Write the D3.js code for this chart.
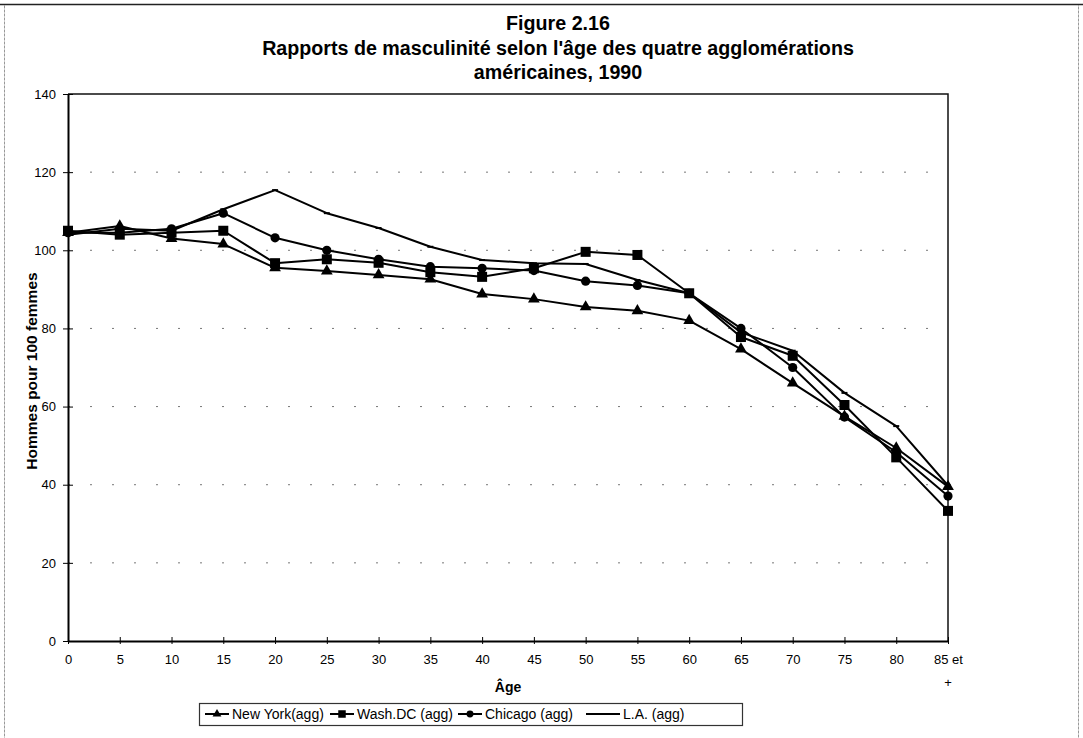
<!DOCTYPE html>
<html>
<head>
<meta charset="utf-8">
<script src="https://cdn.jsdelivr.net/npm/d3@7"></script>
<style>
  body { margin: 0; background: #fff; }
  svg text { font-family: "Liberation Sans", Arial, sans-serif; fill: #000; }
</style>
</head>
<body>
<div id="chart"></div>
<script>
const ages = ["0", "5", "10", "15", "20", "25", "30", "35", "40", "45", "50", "55", "60", "65", "70", "75", "80", "85 et +"];
const newYork = [104.5, 106.2, 103, 101.6, 95.5, 94.7, 93.7, 92.6, 88.8, 87.5, 85.5, 84.5, 82, 74.7, 66, 57.5, 49.4, 39.5];
const washDC = [105, 104, 104.5, 105, 96.7, 97.7, 96.8, 94.4, 93.2, 95.4, 99.6, 98.8, 89, 77.8, 73, 60.4, 47, 33.3];
const chicago = [104.5, 104.5, 105.5, 109.5, 103.2, 100, 97.7, 95.8, 95.4, 94.8, 92.1, 91, 89, 80, 70, 57.3, 48.3, 37.1];
const losAngeles = [104, 105.5, 105, 110.5, 115.4, 109.5, 105.7, 100.9, 97.5, 96.7, 96.5, 92.4, 89, 79, 74.3, 63.5, 55, 39.8];
const yTicks = [0, 20, 40, 60, 80, 100, 120, 140];
const titleLines = ["Figure 2.16", "Rapports de masculinité selon l'âge des quatre agglomérations", "américaines, 1990"];

const series = [
  { name: "New York(agg)", values: newYork, marker: "triangle" },
  { name: "Wash.DC (agg)", values: washDC, marker: "square" },
  { name: "Chicago (agg)", values: chicago, marker: "circle" },
  { name: "L.A. (agg)", values: losAngeles, marker: "dash" }
];

const W = 1083, H = 738;
const plot = { left: 68, right: 948, top: 94, bottom: 641 };

const svg = d3.select("#chart").append("svg")
  .attr("width", W).attr("height", H);

// outer frame of the scanned figure
svg.append("rect")
  .attr("x", 4.5).attr("y", 4.5).attr("width", W - 9).attr("height", H + 10)
  .attr("fill", "none").attr("stroke", "#999").attr("stroke-width", 1)
  .attr("stroke-dasharray", "3,1");
svg.append("line")
  .attr("x1", 0).attr("x2", W).attr("y1", 4.5).attr("y2", 4.5)
  .attr("stroke", "#222").attr("stroke-width", 1.5);

const x = d3.scalePoint().domain(ages).range([plot.left, plot.right]);
const y = d3.scaleLinear().domain([0, 140]).range([plot.bottom, plot.top]);

// title, sized so the long line fills its measured width
const title = svg.append("g");
const probe = title.append("text").attr("font-weight", "bold").attr("font-size", 16).text(titleLines[1]);
const titleSize = 16 * 592 / probe.node().getComputedTextLength();
probe.remove();
title.selectAll("text")
  .data(titleLines)
  .join("text")
  .attr("x", 558)
  .attr("y", (d, i) => 30 + i * 24.5)
  .attr("text-anchor", "middle")
  .attr("font-weight", "bold")
  .attr("font-size", titleSize)
  .text(d => d);

// dotted gridlines
svg.append("g")
  .selectAll("line")
  .data(yTicks.filter(d => d > 0 && d < 140))
  .join("line")
  .attr("x1", plot.left).attr("x2", plot.right)
  .attr("y1", d => y(d)).attr("y2", d => y(d))
  .attr("stroke", "#777").attr("stroke-width", 1)
  .attr("stroke-dasharray", "2,20");

// plot frame (top and right)
svg.append("path")
  .attr("d", `M${plot.left},${plot.top}H${plot.right}V${plot.bottom}`)
  .attr("fill", "none").attr("stroke", "#111").attr("stroke-width", 1.5);

// y axis with crossing ticks
const yAxis = svg.append("g")
  .attr("transform", `translate(${plot.left},0)`)
  .call(d3.axisLeft(y).tickValues(yTicks).tickSizeInner(4).tickSizeOuter(0).tickPadding(8));
yAxis.select(".domain").attr("stroke", "#000").attr("stroke-width", 2);
yAxis.selectAll(".tick line").attr("x2", 5).attr("x1", -5).attr("stroke", "#000");
yAxis.selectAll(".tick text").attr("font-size", 13).attr("font-family", "Liberation Sans, Arial, sans-serif");

// x axis
const xAxis = svg.append("g")
  .attr("transform", `translate(0,${plot.bottom})`)
  .call(d3.axisBottom(x).tickSizeInner(0).tickSizeOuter(0).tickPadding(14).tickFormat(d => d === "85 et +" ? "85 et" : d));
xAxis.select(".domain").attr("stroke", "#000").attr("stroke-width", 2);
xAxis.selectAll(".tick line").attr("y1", -4).attr("y2", 3).attr("stroke", "#000");
xAxis.selectAll(".tick text").attr("font-size", 13).attr("font-family", "Liberation Sans, Arial, sans-serif");
svg.append("text")
  .attr("x", x("85 et +")).attr("y", 687)
  .attr("text-anchor", "middle").attr("font-size", 13).text("+");

// axis titles
svg.append("text")
  .attr("x", (plot.left + plot.right) / 2).attr("y", 692)
  .attr("text-anchor", "middle").attr("font-weight", "bold").attr("font-size", 14)
  .text("Âge");
svg.append("text")
  .attr("transform", "translate(37,371) rotate(-90)")
  .attr("text-anchor", "middle").attr("font-weight", "bold").attr("font-size", 15.5)
  .text("Hommes pour 100 femmes");

function drawMarker(sel, type) {
  if (type === "triangle") {
    sel.append("path").attr("d", d3.symbol(d3.symbolTriangle, 60)()).attr("fill", "#000");
  } else if (type === "square") {
    sel.append("rect").attr("x", -5).attr("y", -5).attr("width", 10).attr("height", 10).attr("fill", "#000");
  } else if (type === "circle") {
    sel.append("circle").attr("r", 4.6).attr("fill", "#000");
  } else {
    sel.append("line").attr("x1", -3).attr("x2", 3).attr("stroke", "#000").attr("stroke-width", 2);
  }
}

const line = d3.line().x((d, i) => x(ages[i])).y(d => y(d));

const seriesG = svg.append("g")
  .selectAll("g")
  .data(series)
  .join("g");

seriesG.append("path")
  .attr("d", d => line(d.values))
  .attr("fill", "none").attr("stroke", "#000").attr("stroke-width", 2)
  .attr("stroke-linejoin", "round");

seriesG.each(function (s) {
  d3.select(this).selectAll("g.pt")
    .data(s.values)
    .join("g")
    .attr("class", "pt")
    .attr("transform", (d, i) => `translate(${x(ages[i])},${y(d)})`)
    .each(function () { drawMarker(d3.select(this), s.marker); });
});

// legend
const legend = svg.append("g");
legend.append("rect")
  .attr("x", 199.5).attr("y", 703.5).attr("width", 543).attr("height", 22)
  .attr("fill", "#fff").attr("stroke", "#333").attr("stroke-width", 1.2);
const legendX = [205, 330, 458, 586];
const legendLineLen = [24, 24, 24, 34];
series.forEach((s, i) => {
  const g = legend.append("g").attr("transform", `translate(${legendX[i]},714)`);
  g.append("line").attr("x1", 0).attr("x2", legendLineLen[i]).attr("stroke", "#000").attr("stroke-width", 2);
  const m = g.append("g").attr("transform", `translate(${legendLineLen[i] / 2},0) scale(0.75)`);
  drawMarker(m, s.marker);
  g.append("text").attr("x", legendLineLen[i] + 3).attr("y", 5).attr("font-size", 14).text(s.name);
});
</script>
</body>
</html>
